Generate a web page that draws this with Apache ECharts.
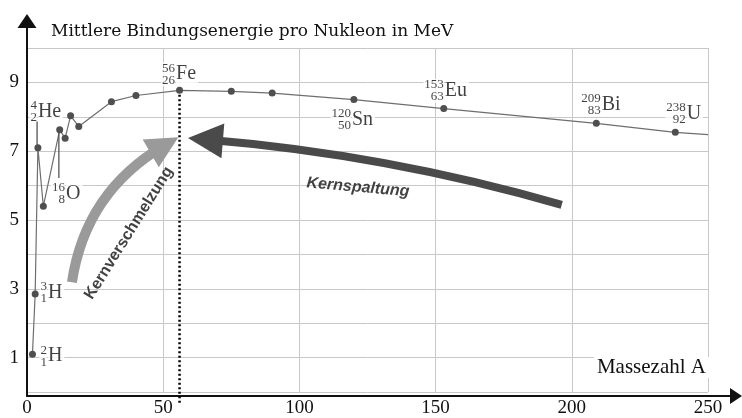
<!DOCTYPE html>
<html>
<head>
<meta charset="utf-8">
<script src="https://cdn.jsdelivr.net/npm/echarts@6/dist/echarts.min.js"></script>
<style>
  html, body { margin: 0; padding: 0; background: #fff; }
  #chart { width: 742px; height: 418px; }
</style>
</head>
<body>
<div id="chart"></div>
<script>
// Massenzahl A und mittlere Bindungsenergie pro Nukleon (MeV)
const massNumbers = [2, 3, 4, 6, 12, 14, 16, 19, 31, 40, 56, 75, 90, 120, 153, 209, 238];
const bindingEnergy = [1.1, 2.85, 7.1, 5.4, 7.62, 7.38, 8.03, 7.72, 8.44, 8.62, 8.77, 8.74, 8.69, 8.5, 8.24, 7.81, 7.55];
const curveEnd = [250, 7.48];

const xTicks = [0, 50, 100, 150, 200, 250];
const yTickLabels = [1, 3, 5, 7, 9];

// beschriftete Kerne
const nuclideSymbols = ['H', 'H', 'He', 'O', 'Fe', 'Sn', 'Eu', 'Bi', 'U'];
const nuclideMass = [2, 3, 4, 16, 56, 120, 153, 209, 238];
const nuclideCharge = [1, 1, 2, 8, 26, 50, 63, 83, 92];
const nuclideLabelA = [7.7, 7.7, 4.0, 14.3, 54.7, 119.3, 153.4, 211, 242.2];
const nuclideLabelE = [1.04, 2.88, 8.14, 5.76, 9.24, 7.91, 8.75, 8.35, 8.09];

// Hinweislinien und Pfeile (in A / MeV)
const heLeader = [[3.7, 7.86], [3.7, 7.1]];
const oLeader = [[11.7, 7.62], [11.7, 6.22]];
const feLine = [[56, 8.77], [56, -0.38]];
const fusionArrow = [[16.5, 3.19], [50.5, 7.17]];
const fissionArrow = [[196.3, 5.44], [65.5, 7.34]];
const fusionText = [37.4, 4.62];
const fissionText = [121.5, 5.95];

const serif = '"Liberation Serif", "Times New Roman", serif';
const sans = '"Liberation Sans", Arial, sans-serif';

const chart = echarts.init(document.getElementById('chart'));

const curveData = massNumbers.map((a, i) => [a, bindingEnergy[i]]);
curveData.push({ value: curveEnd, symbol: 'none' });

const labelAnchors = nuclideSymbols.map((s, i) => ({
  value: [nuclideLabelA[i], nuclideLabelE[i]],
  el: s,
  mass: nuclideMass[i],
  charge: nuclideCharge[i]
}));

const option = {
  animation: false,
  backgroundColor: '#fff',
  title: [
    {
      text: 'Mittlere Bindungsenergie pro Nukleon in MeV',
      left: 51, top: 23, padding: 0,
      textStyle: { fontFamily: '"DejaVu Serif", serif', fontSize: 17, fontWeight: 'normal', color: '#111' }
    },
    {
      text: 'Massezahl A',
      right: 33, top: 357, padding: [0, 3],
      backgroundColor: '#fff',
      textStyle: { fontFamily: serif, fontSize: 21, fontWeight: 'normal', color: '#111' }
    }
  ],
  grid: [
    { left: 27, right: 34, top: 48, bottom: 22 },
    { left: 27, right: 6, top: 21, bottom: 22 }
  ],
  xAxis: [
    {
      gridIndex: 0, type: 'value', min: 0, max: 250, interval: 50,
      axisLine: { show: false },
      axisTick: { show: false },
      axisLabel: {
        margin: 7, color: '#111', fontFamily: serif, fontSize: 19,
        formatter: v => xTicks.includes(v) ? String(v) : ''
      },
      splitLine: { lineStyle: { color: '#c8c8c8', width: 1 } }
    },
    {
      gridIndex: 1, type: 'value', min: 0, max: 1,
      axisLine: { show: true, symbol: ['none', 'triangle'], symbolSize: [16, 12], lineStyle: { color: '#111', width: 2 } },
      axisTick: { show: false }, axisLabel: { show: false }, splitLine: { show: false }
    }
  ],
  yAxis: [
    {
      gridIndex: 0, type: 'value', min: 0, max: 10, interval: 1,
      axisLine: { show: false },
      axisTick: { show: false },
      axisLabel: {
        margin: 8, color: '#111', fontFamily: serif, fontSize: 19,
        formatter: v => yTickLabels.includes(v) ? String(v) : ''
      },
      splitLine: { lineStyle: { color: '#c8c8c8', width: 1 } }
    },
    {
      gridIndex: 1, type: 'value', min: 0, max: 1,
      axisLine: { show: true, symbol: ['none', 'triangle'], symbolSize: [19, 14], lineStyle: { color: '#111', width: 2 } },
      axisTick: { show: false }, axisLabel: { show: false }, splitLine: { show: false }
    }
  ],
  series: [
    {
      // Massen- und Ordnungszahl
      type: 'scatter', z: 2, symbolSize: 0, silent: true,
      data: labelAnchors,
      label: {
        show: true, position: 'left', distance: 1,
        backgroundColor: '#fff', padding: [0, 0, 0, 1],
        formatter: p => '{n|' + p.data.mass + '}\n{n|' + p.data.charge + '}',
        rich: { n: { fontFamily: serif, fontSize: 13, lineHeight: 12, color: '#111', align: 'right' } }
      }
    },
    {
      // Elementsymbol
      type: 'scatter', z: 2, symbolSize: 0, silent: true,
      data: labelAnchors,
      label: {
        show: true, position: 'right', distance: 0,
        backgroundColor: '#fff', padding: [0, 2, 0, 0],
        formatter: p => p.data.el,
        fontFamily: serif, fontSize: 20, color: '#111'
      }
    },
    {
      type: 'line', z: 3, data: curveData,
      symbol: 'circle', symbolSize: 7,
      itemStyle: { color: '#4f4f4f' },
      lineStyle: { color: '#6e6e6e', width: 1.2 }
    },
    {
      type: 'line', z: 3, data: heLeader, symbol: 'none',
      lineStyle: { color: '#555', width: 1.3 }
    },
    {
      type: 'line', z: 3, data: oLeader, symbol: 'none',
      lineStyle: { color: '#555', width: 1.3 }
    },
    {
      type: 'line', z: 3, data: feLine, symbol: 'none', clip: false,
      lineStyle: { color: '#000', width: 2.5, type: [2, 2.5] }
    },
    {
      type: 'lines', coordinateSystem: 'cartesian2d', z: 4, silent: true,
      symbol: ['none', 'triangle'], symbolSize: [27, 32],
      lineStyle: { color: '#9a9a9a', width: 10, opacity: 1, curveness: 0.24 },
      data: [{ coords: fusionArrow }]
    },
    {
      type: 'lines', coordinateSystem: 'cartesian2d', z: 4, silent: true,
      symbol: ['none', 'triangle'], symbolSize: [22, 35],
      lineStyle: { color: '#4a4a4a', width: 8, opacity: 1, curveness: -0.05 },
      data: [{ coords: fissionArrow }]
    },
    {
      type: 'scatter', z: 5, symbolSize: 0, silent: true,
      data: [{ value: fusionText, name: 'Kernverschmelzung', rot: 58 }, { value: fissionText, name: 'Kernspaltung', rot: -5 }],
      label: {
        show: true, position: 'inside',
        formatter: p => p.name,
        fontFamily: sans, fontWeight: 'bold', fontSize: 15, color: '#111'
      }
    }
  ]
};

// Drehung der beiden Pfeiltexte
option.series[8].data = option.series[8].data.map(d => ({
  value: d.value, name: d.name,
  label: { rotate: d.rot, fontStyle: d.rot < 0 ? 'italic' : 'normal', fontSize: d.rot < 0 ? 16 : 16 }
}));

chart.setOption(option);
window.addEventListener('resize', function () {
  chart.resize();
});
</script>
</body>
</html>
